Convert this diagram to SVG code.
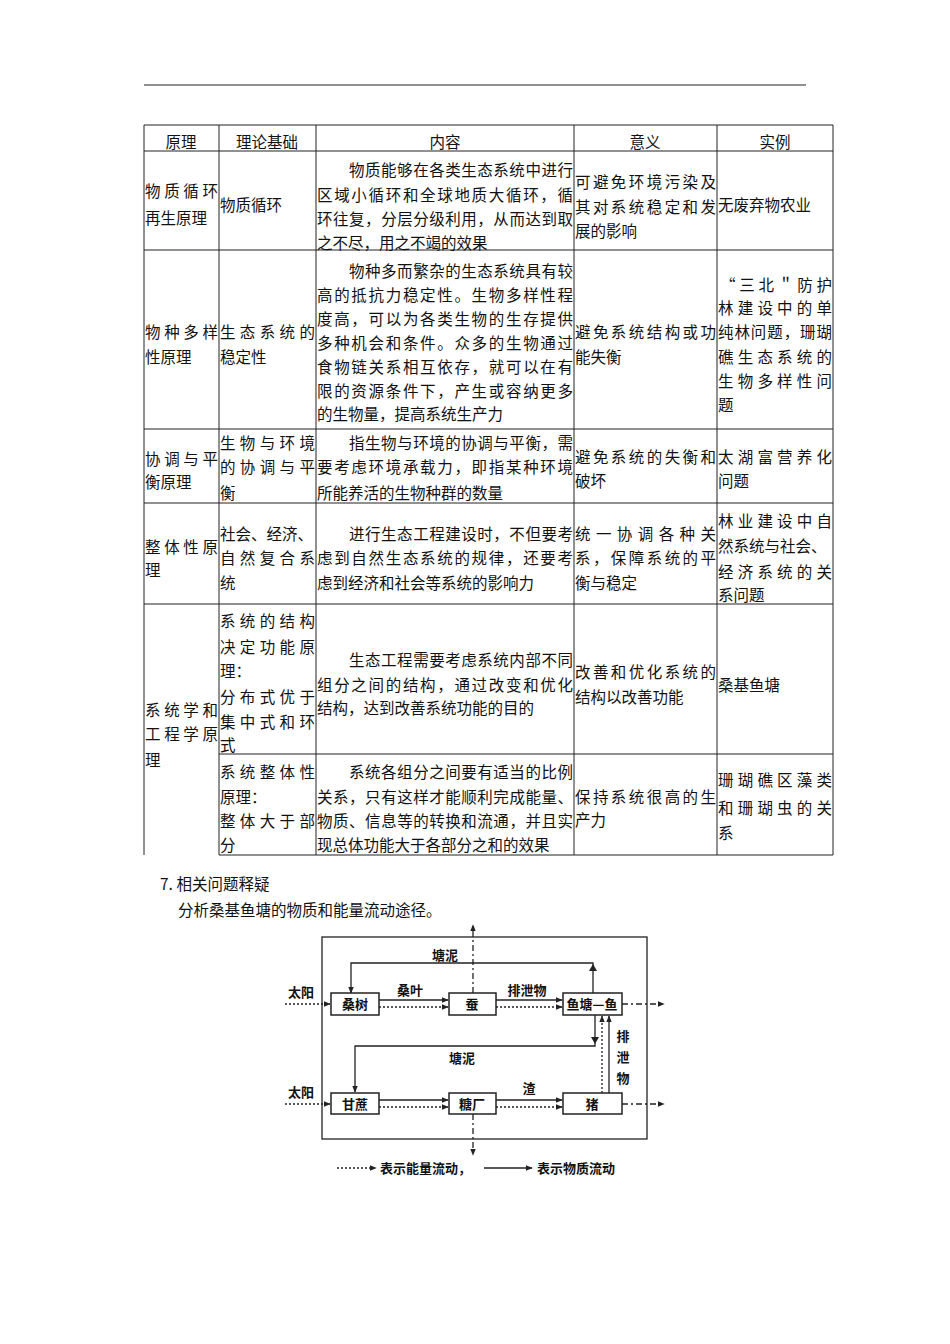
<svg xmlns="http://www.w3.org/2000/svg" width="950" height="1344" viewBox="0 0 950 1344">
<defs>
<style>
.t{font-family:"Noto Sans CJK SC","Noto Sans",sans-serif;font-size:15.5px;fill:#111}
.d{font-family:"Noto Sans CJK SC",sans-serif;font-size:13px;font-weight:bold;fill:#111}
.g{stroke:#222;stroke-width:1;fill:none}
.s{stroke:#222;stroke-width:1.3;fill:none}
.dt{stroke:#222;stroke-width:1.3;fill:none;stroke-dasharray:2,2}
.dd{stroke:#222;stroke-width:1.3;fill:none;stroke-dasharray:6,3,2,3}
.b{stroke:#222;stroke-width:1.5;fill:#fff}
</style>
<marker id="a" viewBox="0 0 10 10" refX="9" refY="5" markerWidth="7" markerHeight="7" orient="auto" markerUnits="userSpaceOnUse"><path d="M0,1 L10,5 L0,9 z" fill="#222"/></marker>
</defs>
<line x1="144" y1="85" x2="806" y2="85" class="g"/>
<g id="table">
<rect x="144" y="125" width="689" height="730" fill="none" stroke="none"/>
<path class="g" d="M144,125H833M144,151H833M144,250H833M144,429H833M144,503H833M144,604H833M219,754H833M219,855H833M144,125V855M219,125V855M316,125V855M574,125V855M717,125V855M833,125V855"/>
<g class="t">
<text x="181" y="148" text-anchor="middle">原理</text>
<text x="267" y="148" text-anchor="middle">理论基础</text>
<text x="445" y="148" text-anchor="middle">内容</text>
<text x="645" y="148" text-anchor="middle">意义</text>
<text x="775" y="148" text-anchor="middle">实例</text>
<!-- row1 -->
<text x="145" y="197" textLength="73" lengthAdjust="spacing">物质循环</text>
<text x="145" y="224">再生原理</text>
<text x="220" y="211">物质循环</text>
<text x="349" y="176" textLength="224" lengthAdjust="spacing">物质能够在各类生态系统中进行</text>
<text x="317" y="201" textLength="256" lengthAdjust="spacing">区域小循环和全球地质大循环，循</text>
<text x="317" y="225" textLength="256" lengthAdjust="spacing">环往复，分层分级利用，从而达到取</text>
<text x="317" y="249">之不尽，用之不竭的效果</text>
<text x="575" y="188" textLength="141" lengthAdjust="spacing">可避免环境污染及</text>
<text x="575" y="213" textLength="141" lengthAdjust="spacing">其对系统稳定和发</text>
<text x="575" y="237">展的影响</text>
<text x="718" y="211">无废弃物农业</text>
<!-- row2 -->
<text x="145" y="338" textLength="73" lengthAdjust="spacing">物种多样</text>
<text x="145" y="363">性原理</text>
<text x="220" y="338" textLength="95" lengthAdjust="spacing">生态系统的</text>
<text x="220" y="363">稳定性</text>
<text x="349" y="277" textLength="224" lengthAdjust="spacing">物种多而繁杂的生态系统具有较</text>
<text x="317" y="301" textLength="256" lengthAdjust="spacing">高的抵抗力稳定性。生物多样性程</text>
<text x="317" y="325" textLength="256" lengthAdjust="spacing">度高，可以为各类生物的生存提供</text>
<text x="317" y="349" textLength="256" lengthAdjust="spacing">多种机会和条件。众多的生物通过</text>
<text x="317" y="373" textLength="256" lengthAdjust="spacing">食物链关系相互依存，就可以在有</text>
<text x="317" y="397" textLength="256" lengthAdjust="spacing">限的资源条件下，产生或容纳更多</text>
<text x="317" y="420">的生物量，提高系统生产力</text>
<text x="575" y="338" textLength="141" lengthAdjust="spacing">避免系统结构或功</text>
<text x="575" y="363">能失衡</text>
<text x="720" y="291" textLength="112" lengthAdjust="spacing">“三北＂防护</text>
<text x="718" y="314" textLength="114" lengthAdjust="spacing">林建设中的单</text>
<text x="718" y="338" textLength="114" lengthAdjust="spacing">纯林问题，珊瑚</text>
<text x="718" y="363" textLength="114" lengthAdjust="spacing">礁生态系统的</text>
<text x="718" y="387" textLength="114" lengthAdjust="spacing">生物多样性问</text>
<text x="718" y="411">题</text>
<!-- row3 -->
<text x="145" y="465" textLength="73" lengthAdjust="spacing">协调与平</text>
<text x="145" y="488">衡原理</text>
<text x="220" y="449" textLength="95" lengthAdjust="spacing">生物与环境</text>
<text x="220" y="473" textLength="95" lengthAdjust="spacing">的协调与平</text>
<text x="220" y="499">衡</text>
<text x="349" y="449" textLength="224" lengthAdjust="spacing">指生物与环境的协调与平衡，需</text>
<text x="317" y="473" textLength="256" lengthAdjust="spacing">要考虑环境承载力，即指某种环境</text>
<text x="317" y="499">所能养活的生物种群的数量</text>
<text x="575" y="463" textLength="141" lengthAdjust="spacing">避免系统的失衡和</text>
<text x="575" y="487">破坏</text>
<text x="718" y="463" textLength="114" lengthAdjust="spacing">太湖富营养化</text>
<text x="718" y="487">问题</text>
<!-- row4 -->
<text x="145" y="553" textLength="73" lengthAdjust="spacing">整体性原</text>
<text x="145" y="576">理</text>
<text x="220" y="540">社会、经济、</text>
<text x="220" y="564" textLength="95" lengthAdjust="spacing">自然复合系</text>
<text x="220" y="589">统</text>
<text x="349" y="540" textLength="224" lengthAdjust="spacing">进行生态工程建设时，不但要考</text>
<text x="317" y="564" textLength="256" lengthAdjust="spacing">虑到自然生态系统的规律，还要考</text>
<text x="317" y="589">虑到经济和社会等系统的影响力</text>
<text x="575" y="540" textLength="141" lengthAdjust="spacing">统一协调各种关</text>
<text x="575" y="564" textLength="141" lengthAdjust="spacing">系，保障系统的平</text>
<text x="575" y="589">衡与稳定</text>
<text x="718" y="527" textLength="114" lengthAdjust="spacing">林业建设中自</text>
<text x="718" y="552">然系统与社会、</text>
<text x="718" y="578" textLength="114" lengthAdjust="spacing">经济系统的关</text>
<text x="718" y="601">系问题</text>
<!-- row5 -->
<text x="145" y="716" textLength="73" lengthAdjust="spacing">系统学和</text>
<text x="145" y="740" textLength="73" lengthAdjust="spacing">工程学原</text>
<text x="145" y="766">理</text>
<text x="220" y="627" textLength="95" lengthAdjust="spacing">系统的结构</text>
<text x="220" y="653" textLength="95" lengthAdjust="spacing">决定功能原</text>
<text x="220" y="677">理：</text>
<text x="220" y="703" textLength="95" lengthAdjust="spacing">分布式优于</text>
<text x="220" y="728" textLength="95" lengthAdjust="spacing">集中式和环</text>
<text x="220" y="751">式</text>
<text x="349" y="666" textLength="224" lengthAdjust="spacing">生态工程需要考虑系统内部不同</text>
<text x="317" y="691" textLength="256" lengthAdjust="spacing">组分之间的结构，通过改变和优化</text>
<text x="317" y="714">结构，达到改善系统功能的目的</text>
<text x="575" y="678" textLength="141" lengthAdjust="spacing">改善和优化系统的</text>
<text x="575" y="703">结构以改善功能</text>
<text x="718" y="691">桑基鱼塘</text>
<!-- row6 -->
<text x="220" y="778" textLength="95" lengthAdjust="spacing">系统整体性</text>
<text x="220" y="803">原理：</text>
<text x="220" y="827" textLength="95" lengthAdjust="spacing">整体大于部</text>
<text x="220" y="851">分</text>
<text x="349" y="778" textLength="224" lengthAdjust="spacing">系统各组分之间要有适当的比例</text>
<text x="317" y="803" textLength="256" lengthAdjust="spacing">关系，只有这样才能顺利完成能量、</text>
<text x="317" y="827" textLength="256" lengthAdjust="spacing">物质、信息等的转换和流通，并且实</text>
<text x="317" y="851">现总体功能大于各部分之和的效果</text>
<text x="575" y="803" textLength="141" lengthAdjust="spacing">保持系统很高的生</text>
<text x="575" y="826">产力</text>
<text x="718" y="786" textLength="114" lengthAdjust="spacing">珊瑚礁区藻类</text>
<text x="718" y="814" textLength="114" lengthAdjust="spacing">和珊瑚虫的关</text>
<text x="718" y="839">系</text>
</g>
</g>
<text class="t" x="160" y="890">7. 相关问题释疑</text>
<text class="t" x="178" y="916">分析桑基鱼塘的物质和能量流动途径。</text>
<rect x="322" y="937" width="325" height="202" class="s" stroke-width="2"/>
<g id="connectors">
<path class="dd" d="M473,993V925" marker-end="url(#a)"/>
<path class="dd" d="M473,1114V1155" marker-end="url(#a)"/>
<path class="s" d="M593,994V963H351V993" marker-end="url(#a)"/>
<path d="M589,971L593,964L597,971z" fill="#222"/>
<path class="s" d="M595,1015V1046H355V1092" marker-end="url(#a)"/>
<path d="M591,1037L595,1044L599,1037z" fill="#222"/>
<path class="s" d="M379,1000H448" marker-end="url(#a)"/>
<path class="dt" d="M379,1007H448" marker-end="url(#a)"/>
<path class="s" d="M496,1000H562" marker-end="url(#a)"/>
<path class="dt" d="M496,1007H562" marker-end="url(#a)"/>
<path class="s" d="M379,1100H448" marker-end="url(#a)"/>
<path class="dt" d="M379,1107H448" marker-end="url(#a)"/>
<path class="s" d="M496,1100H562" marker-end="url(#a)"/>
<path class="dt" d="M496,1107H562" marker-end="url(#a)"/>
<path class="dt" d="M285,1004H330" marker-end="url(#a)"/>
<path class="dt" d="M285,1104H330" marker-end="url(#a)"/>
<path class="dd" d="M622,1004H664" marker-end="url(#a)"/>
<path class="dd" d="M622,1104H664" marker-end="url(#a)"/>
<path class="s" d="M609,1093V1016" marker-end="url(#a)"/>
<path class="dt" d="M602,1093V1016" marker-end="url(#a)"/>
<path class="dt" d="M337,1168H376" marker-end="url(#a)"/>
<path class="s" d="M484,1168H532" marker-end="url(#a)"/>
</g>
<g id="n-sangshu"><rect x="331" y="993" width="48" height="22" class="b"/><text class="d" x="355" y="1009" text-anchor="middle">桑树</text></g>
<g id="n-can"><rect x="449" y="993" width="47" height="22" class="b"/><text class="d" x="472" y="1009" text-anchor="middle">蚕</text></g>
<g id="n-yutang"><rect x="563" y="993" width="59" height="22" class="b"/><text class="d" x="592" y="1009" text-anchor="middle">鱼塘—鱼</text></g>
<g id="n-ganzhe"><rect x="331" y="1093" width="48" height="21" class="b"/><text class="d" x="355" y="1109" text-anchor="middle">甘蔗</text></g>
<g id="n-tangchang"><rect x="449" y="1093" width="47" height="21" class="b"/><text class="d" x="472" y="1109" text-anchor="middle">糖厂</text></g>
<g id="n-zhu"><rect x="563" y="1093" width="59" height="21" class="b"/><text class="d" x="592" y="1109" text-anchor="middle">猪</text></g>
<g class="d">
<text x="288" y="997">太阳</text>
<text x="288" y="1097">太阳</text>
<text x="445" y="960" text-anchor="middle">塘泥</text>
<text x="410" y="995" text-anchor="middle">桑叶</text>
<text x="527" y="995" text-anchor="middle">排泄物</text>
<text x="462" y="1063" text-anchor="middle">塘泥</text>
<text x="529" y="1093" text-anchor="middle">渣</text>
<text x="623" y="1041" text-anchor="middle">排</text>
<text x="623" y="1062" text-anchor="middle">泄</text>
<text x="623" y="1083" text-anchor="middle">物</text>
<text x="380" y="1173">表示能量流动，</text>
<text x="537" y="1173">表示物质流动</text>
</g>
</svg>
